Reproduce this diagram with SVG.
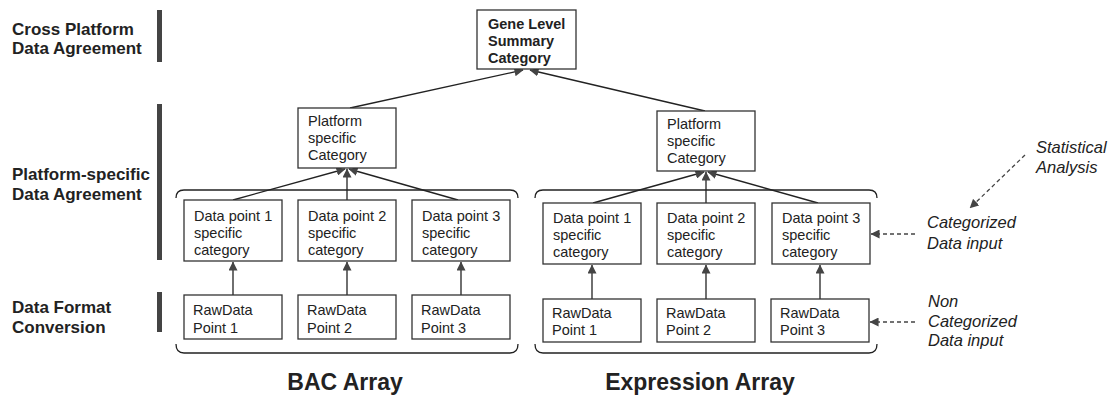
<svg xmlns="http://www.w3.org/2000/svg" width="1114" height="399" viewBox="0 0 1114 399">
  <defs>
    <marker id="ah" viewBox="0 0 10 10" refX="9.5" refY="5" markerWidth="9" markerHeight="9" markerUnits="userSpaceOnUse" orient="auto">
      <path d="M0,0 L10,5 L0,10 z" fill="#444"/>
    </marker>
    <style>
      text { font-family: "Liberation Sans", Arial, sans-serif; fill: #222; }
      .lvl { font-size: 17px; font-weight: bold; }
      .box { fill: #fff; stroke: #333; stroke-width: 1.3; }
      .t { font-size: 14.5px; }
      .tb { font-size: 14.5px; font-weight: bold; }
      .title { font-size: 23px; font-weight: bold; text-anchor: middle; }
      .note { font-size: 16.5px; font-style: italic; }
      .bar { fill: #444; }
      .edge { stroke: #222; stroke-width: 1.3; fill: none; marker-end: url(#ah); }
      .dash { stroke: #444; stroke-width: 1.3; fill: none; stroke-dasharray: 4 3; marker-end: url(#ah); }
      .brace { stroke: #222; stroke-width: 1.3; fill: none; }
    </style>
  </defs>

  <!-- level labels and separator bars -->
  <g id="levels">
    <text class="lvl" x="12" y="35">Cross Platform</text>
    <text class="lvl" x="12" y="54">Data Agreement</text>
    <rect class="bar" x="157" y="10" width="5" height="52"/>
    <text class="lvl" x="12" y="180">Platform-specific</text>
    <text class="lvl" x="12" y="200">Data Agreement</text>
    <rect class="bar" x="157" y="104" width="5" height="156"/>
    <text class="lvl" x="12" y="313">Data Format</text>
    <text class="lvl" x="12" y="333">Conversion</text>
    <rect class="bar" x="157" y="292" width="5" height="40"/>
  </g>

  <!-- array group braces -->
  <g id="braces">
    <path class="brace" d="M176,198 Q176,190 184,190 H510 Q518,190 518,198"/>
    <path class="brace" d="M176,344 Q176,353 184,353 H510 Q518,353 518,344"/>
    <path class="brace" d="M535,198 Q535,190 543,190 H869 Q877,190 877,198"/>
    <path class="brace" d="M535,344 Q535,353 543,353 H869 Q877,353 877,344"/>
  </g>

  <!-- connectors -->
  <g id="connectors">
    <line class="edge" x1="350" y1="108" x2="523" y2="70"/>
    <line class="edge" x1="705" y1="111" x2="530" y2="70"/>

    <line class="edge" x1="233" y1="200" x2="345" y2="169"/>
    <line class="edge" x1="347" y1="200" x2="347" y2="169"/>
    <line class="edge" x1="458" y1="200" x2="349" y2="169"/>

    <line class="edge" x1="593" y1="203" x2="704" y2="172"/>
    <line class="edge" x1="706" y1="203" x2="706" y2="172"/>
    <line class="edge" x1="818" y1="203" x2="708" y2="172"/>

    <line class="edge" x1="233" y1="295" x2="233" y2="262"/>
    <line class="edge" x1="347" y1="295" x2="347" y2="262"/>
    <line class="edge" x1="461" y1="295" x2="461" y2="262"/>

    <line class="edge" x1="592" y1="299" x2="592" y2="265"/>
    <line class="edge" x1="706" y1="299" x2="706" y2="265"/>
    <line class="edge" x1="820" y1="299" x2="820" y2="265"/>

    <line class="dash" x1="915" y1="234" x2="871" y2="234"/>
    <line class="dash" x1="915" y1="322" x2="870" y2="322"/>
    <line class="dash" x1="1025" y1="155" x2="970" y2="208"/>
  </g>

  <!-- top summary -->
  <g id="gene-summary">
    <rect class="box" x="477" y="10" width="99" height="59"/>
    <text class="tb" x="488" y="29">Gene Level</text>
    <text class="tb" x="488" y="46">Summary</text>
    <text class="tb" x="488" y="63">Category</text>
  </g>

  <!-- BAC array -->
  <g id="bac-platform">
    <rect class="box" x="298" y="108" width="98" height="60"/>
    <text class="t" x="308" y="126">Platform</text>
    <text class="t" x="308" y="143">specific</text>
    <text class="t" x="308" y="160">Category</text>
  </g>
  <g id="bac-dp1">
    <rect class="box" x="184" y="200" width="98" height="61"/>
    <text class="t" x="194" y="221">Data point 1</text>
    <text class="t" x="194" y="238">specific</text>
    <text class="t" x="194" y="255">category</text>
  </g>
  <g id="bac-dp2">
    <rect class="box" x="298" y="200" width="98" height="61"/>
    <text class="t" x="308" y="221">Data point 2</text>
    <text class="t" x="308" y="238">specific</text>
    <text class="t" x="308" y="255">category</text>
  </g>
  <g id="bac-dp3">
    <rect class="box" x="412" y="200" width="98" height="61"/>
    <text class="t" x="422" y="221">Data point 3</text>
    <text class="t" x="422" y="238">specific</text>
    <text class="t" x="422" y="255">category</text>
  </g>
  <g id="bac-raw1">
    <rect class="box" x="184" y="295" width="98" height="44"/>
    <text class="t" x="193" y="315">RawData</text>
    <text class="t" x="193" y="333">Point 1</text>
  </g>
  <g id="bac-raw2">
    <rect class="box" x="298" y="295" width="98" height="44"/>
    <text class="t" x="307" y="315">RawData</text>
    <text class="t" x="307" y="333">Point 2</text>
  </g>
  <g id="bac-raw3">
    <rect class="box" x="412" y="295" width="98" height="44"/>
    <text class="t" x="421" y="315">RawData</text>
    <text class="t" x="421" y="333">Point 3</text>
  </g>
  <text class="title" x="345" y="390">BAC Array</text>

  <!-- Expression array -->
  <g id="exp-platform">
    <rect class="box" x="657" y="111" width="98" height="60"/>
    <text class="t" x="667" y="129">Platform</text>
    <text class="t" x="667" y="146">specific</text>
    <text class="t" x="667" y="163">Category</text>
  </g>
  <g id="exp-dp1">
    <rect class="box" x="543" y="203" width="98" height="61"/>
    <text class="t" x="553" y="223">Data point 1</text>
    <text class="t" x="553" y="240">specific</text>
    <text class="t" x="553" y="257">category</text>
  </g>
  <g id="exp-dp2">
    <rect class="box" x="657" y="203" width="98" height="61"/>
    <text class="t" x="667" y="223">Data point 2</text>
    <text class="t" x="667" y="240">specific</text>
    <text class="t" x="667" y="257">category</text>
  </g>
  <g id="exp-dp3">
    <rect class="box" x="772" y="203" width="98" height="61"/>
    <text class="t" x="782" y="223">Data point 3</text>
    <text class="t" x="782" y="240">specific</text>
    <text class="t" x="782" y="257">category</text>
  </g>
  <g id="exp-raw1">
    <rect class="box" x="543" y="299" width="98" height="43"/>
    <text class="t" x="552" y="318">RawData</text>
    <text class="t" x="552" y="335">Point 1</text>
  </g>
  <g id="exp-raw2">
    <rect class="box" x="657" y="299" width="98" height="43"/>
    <text class="t" x="666" y="318">RawData</text>
    <text class="t" x="666" y="335">Point 2</text>
  </g>
  <g id="exp-raw3">
    <rect class="box" x="771" y="299" width="98" height="43"/>
    <text class="t" x="780" y="318">RawData</text>
    <text class="t" x="780" y="335">Point 3</text>
  </g>
  <text class="title" x="700" y="390">Expression Array</text>

  <!-- input annotations -->
  <g id="notes">
    <text class="note" x="1036" y="153">Statistical</text>
    <text class="note" x="1036" y="173">Analysis</text>
    <text class="note" x="927" y="228">Categorized</text>
    <text class="note" x="927" y="249">Data input</text>
    <text class="note" x="928" y="307">Non</text>
    <text class="note" x="928" y="327">Categorized</text>
    <text class="note" x="928" y="346">Data input</text>
  </g>
</svg>
